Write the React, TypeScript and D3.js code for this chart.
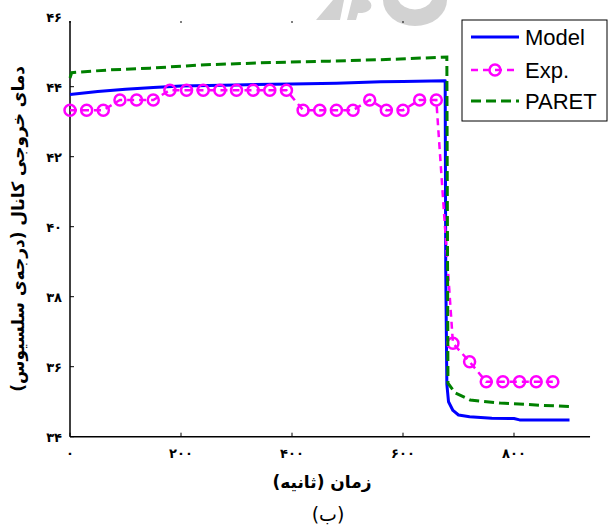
import React from "react";
import * as d3 from "d3";

// Model (blue solid)
const modelTime = [0, 50, 100, 150, 200, 300, 400, 480, 560, 600, 676, 677, 679, 682, 690, 700, 720, 760, 800, 810, 900];
const modelTemp = [43.78, 43.86, 43.93, 43.98, 44.02, 44.05, 44.08, 44.1, 44.14, 44.15, 44.17, 38.8, 35.5, 35.0, 34.75, 34.62, 34.57, 34.53, 34.52, 34.48, 34.48];

// Experiment (magenta dashed with circles)
const expTime = [0, 30, 60, 90, 120, 150, 180, 210, 240, 270, 300, 330, 360, 390, 420, 450, 480, 510, 540, 570, 600, 630, 660, 690, 720, 750, 780, 810, 840, 870];
const expTemp = [43.33, 43.33, 43.33, 43.62, 43.62, 43.62, 43.9, 43.9, 43.9, 43.9, 43.9, 43.9, 43.9, 43.9, 43.33, 43.33, 43.33, 43.33, 43.62, 43.33, 43.33, 43.62, 43.62, 36.67, 36.14, 35.57, 35.57, 35.57, 35.57, 35.57];

// PARET (green dashed)
const paretTime = [0, 3, 18, 72, 144, 234, 342, 468, 595, 679, 681, 694, 721, 775, 847, 901];
const paretTemp = [44.25, 44.4, 44.42, 44.48, 44.53, 44.62, 44.68, 44.73, 44.79, 44.85, 35.53, 35.25, 35.05, 34.96, 34.9, 34.86];

const xTicks = [0, 200, 400, 600, 800];
const xTickLabels = ["۰", "۲۰۰", "۴۰۰", "۶۰۰", "۸۰۰"];
const yTicks = [34, 36, 38, 40, 42, 44, 46];
const yTickLabels = ["۳۴", "۳۶", "۳۸", "۴۰", "۴۲", "۴۴", "۴۶"];

const legendNames = ["Model", "Exp.", "PARET"];
const xLabel = "زمان (ثانیه)";
const yLabel = "دمای خروجی کانال (درجه‌ی سلسیوس)";
const caption = "(ب)";

const W = 609;
const H = 529;

export default function App() {
  const x = d3.scaleLinear().domain([0, 800]).range([70, 514]);
  const y = d3.scaleLinear().domain([34, 44]).range([436.7, 86.7]);
  const axisRight = x(937);
  const axisTop = 21;
  const axisBottom = y(34);

  const line = d3
    .line<[number, number]>()
    .x((d) => x(d[0]))
    .y((d) => y(d[1]));

  const model = modelTime.map((t, i) => [t, modelTemp[i]] as [number, number]);
  const exp = expTime.map((t, i) => [t, expTemp[i]] as [number, number]);
  const paret = paretTime.map((t, i) => [t, paretTemp[i]] as [number, number]);

  const persianFont = "'DejaVu Sans', sans-serif";
  const lx = 471;
  const legendY = [37, 70, 101];

  return (
    <svg width={W} height={H} style={{ position: "absolute", left: 0, top: 0, background: "#fff" }}>
      {/* watermark */}
      <g fill="#d2d2d2">
        <path d="M316,20 L333,0 L344,0 L340,20 Z" />
        <path d="M347,20 L352,0 L368,0 C374,4 372,12 362,13 L358,13 L356,20 Z" />
        <path d="M383,0 A32,26 0 0 0 447,0 L432,0 A18,14 0 0 1 398,0 Z" />
      </g>

      {/* axes */}
      <line x1={x(0)} x2={x(0)} y1={axisTop} y2={axisBottom} stroke="#000" strokeWidth={1.5} />
      <line x1={x(0)} x2={axisRight} y1={axisBottom} y2={axisBottom} stroke="#000" strokeWidth={1.5} />
      {xTicks.map((t, i) => (
        <g key={"xt" + i}>
          <line x1={x(t)} x2={x(t)} y1={axisBottom} y2={axisBottom - 4} stroke="#000" strokeWidth={1} />
          <line x1={x(t)} x2={x(t)} y1={axisTop} y2={axisTop + 2} stroke="#000" strokeWidth={1} />
          <text x={x(t)} y={axisBottom + 21} textAnchor="middle" fontFamily={persianFont} fontWeight="bold" fontSize={13}>
            {xTickLabels[i]}
          </text>
        </g>
      ))}
      {yTicks.map((v, i) => (
        <g key={"yt" + i}>
          {v < 46 && <line x1={x(0)} x2={x(0) + 4} y1={y(v)} y2={y(v)} stroke="#000" strokeWidth={1} />}
          <text x={62} y={y(v) + 5} textAnchor="end" fontFamily={persianFont} fontWeight="bold" fontSize={13}>
            {yTickLabels[i]}
          </text>
        </g>
      ))}

      {/* series */}
      <path d={line(model) || ""} fill="none" stroke="#0000ff" strokeWidth={3} strokeLinejoin="round" />
      <path d={line(exp) || ""} fill="none" stroke="#ff00ff" strokeWidth={2.5} strokeDasharray="7,5" />
      {exp.map((d, i) => (
        <circle key={"c" + i} cx={x(d[0])} cy={y(d[1])} r={5.5} fill="none" stroke="#ff00ff" strokeWidth={2.5} />
      ))}
      <path d={line(paret) || ""} fill="none" stroke="#008000" strokeWidth={3} strokeDasharray="10,5" />

      {/* legend */}
      <rect x={462} y={20} width={145} height={101} fill="#fff" stroke="#000" strokeWidth={1} />
      <line x1={lx} x2={lx + 48} y1={legendY[0]} y2={legendY[0]} stroke="#0000ff" strokeWidth={3} />
      <line x1={lx} x2={lx + 48} y1={legendY[1]} y2={legendY[1]} stroke="#ff00ff" strokeWidth={2.5} strokeDasharray="7,5" />
      <circle cx={lx + 24} cy={legendY[1]} r={5.5} fill="none" stroke="#ff00ff" strokeWidth={2.5} />
      <line x1={lx} x2={lx + 48} y1={legendY[2]} y2={legendY[2]} stroke="#008000" strokeWidth={3} strokeDasharray="10,5" />
      {legendNames.map((n, i) => (
        <text key={n} x={525} y={legendY[i] + 8} fontFamily="'Liberation Sans', Arial, sans-serif" fontSize={22}>
          {n}
        </text>
      ))}

      {/* labels */}
      <text x={322} y={488} textAnchor="middle" fontFamily={persianFont} fontWeight="bold" fontSize={17} direction="rtl">
        {xLabel}
      </text>
      <text x={328} y={521} textAnchor="middle" fontFamily={persianFont} fontSize={19} direction="rtl">
        {caption}
      </text>
      <text
        transform={`translate(24, ${(axisTop + axisBottom) / 2}) rotate(-90)`}
        textAnchor="middle"
        fontFamily={persianFont}
        fontWeight="bold"
        fontSize={17}
        direction="rtl"
      >
        {yLabel}
      </text>
    </svg>
  );
}
